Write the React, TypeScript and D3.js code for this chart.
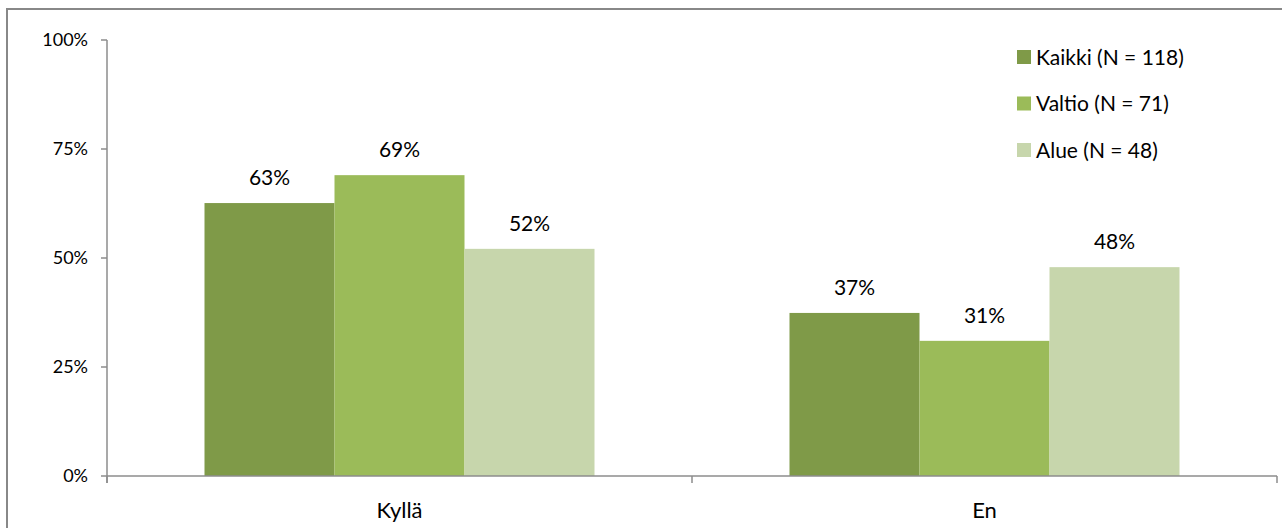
import React from "react";
import * as d3 from "d3";

const categories = ["Kyllä", "En"];
const seriesNames = ["Kaikki (N = 118)", "Valtio (N = 71)", "Alue (N = 48)"];
const kaikki = [62.6, 37.4];
const valtio = [69.0, 31.0];
const alue = [52.1, 47.9];
const yTicks = [0, 25, 50, 75, 100];
const colors = ["#7f9a48", "#9bbb59", "#c7d6ac"];

const W = 1282;
const H = 528;
const M = { left: 107, right: 1277, top: 40, bottom: 476 };
const FONT = "Lato, 'Open Sans', sans-serif";

export default function App() {
  const series = [kaikki, valtio, alue];
  const y = d3.scaleLinear().domain([0, 100]).range([M.bottom, M.top]);
  const x0 = d3.scaleBand().domain(categories).range([M.left, M.right]).paddingInner(0).paddingOuter(0);
  const groupW = x0.bandwidth() * (3 / 4.5);
  const x1 = d3
    .scaleBand()
    .domain(seriesNames)
    .range([0, groupW])
    .padding(0);
  const groupOffset = (x0.bandwidth() - groupW) / 2;
  const axisColor = "#8c8c8c";

  return (
    <svg
      width={W}
      height={H}
      style={{ position: "absolute", left: 0, top: 0, background: "#fff" }}
      fontFamily={FONT}
    >
      <rect x={7} y={9} width={1300} height={560} fill="#fff" stroke="#888" strokeWidth={2} />
      {/* bars */}
      {categories.map((c, ci) =>
        series.map((s, si) => {
          const bx = (x0(c) as number) + groupOffset + (x1(seriesNames[si]) as number);
          const by = y(s[ci]);
          return (
            <g key={c + si}>
              <rect x={bx} y={by} width={x1.bandwidth()} height={M.bottom - by} fill={colors[si]} />
              <text
                x={bx + x1.bandwidth() / 2}
                y={by - 18}
                textAnchor="middle"
                fontSize={21}
                fill="#000"
              >
                {Math.round(s[ci]) + "%"}
              </text>
            </g>
          );
        })
      )}
      {/* y axis */}
      <line x1={M.left} x2={M.left} y1={M.top} y2={M.bottom + 7} stroke={axisColor} strokeWidth={1.5} />
      {yTicks.map((t) => (
        <g key={t}>
          <line x1={M.left - 6} x2={M.left} y1={y(t)} y2={y(t)} stroke={axisColor} strokeWidth={1.5} />
          <text x={88} y={y(t)} dy="0.36em" textAnchor="end" fontSize={18} fill="#000">
            {t + "%"}
          </text>
        </g>
      ))}
      {/* x axis */}
      <line x1={M.left} x2={M.right} y1={M.bottom} y2={M.bottom} stroke={axisColor} strokeWidth={1.5} />
      {[...categories.map((c) => x0(c) as number), M.right].map((v, i) => (
        <line key={i} x1={v} x2={v} y1={M.bottom} y2={M.bottom + 7} stroke={axisColor} strokeWidth={1.5} />
      ))}
      {categories.map((c) => (
        <text
          key={c}
          x={(x0(c) as number) + x0.bandwidth() / 2}
          y={518}
          textAnchor="middle"
          fontSize={22}
          fill="#000"
        >
          {c}
        </text>
      ))}
      {/* legend */}
      {seriesNames.map((n, i) => (
        <g key={n} transform={`translate(1017, ${57 + i * 46.5})`}>
          <rect x={0} y={-7} width={14} height={14} fill={colors[i]} />
          <text x={19} y={0} dy="0.36em" fontSize={21} fill="#000">
            {n}
          </text>
        </g>
      ))}
    </svg>
  );
}
